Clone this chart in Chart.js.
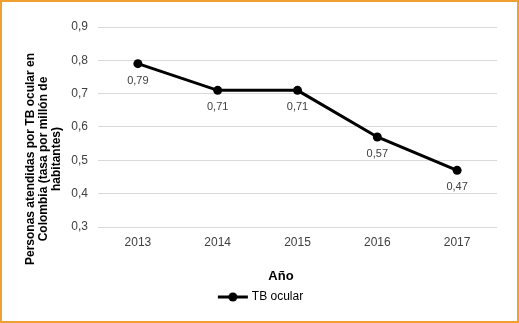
<!DOCTYPE html>
<html><head><meta charset="utf-8">
<script src="https://cdn.jsdelivr.net/npm/chart.js@4/dist/chart.umd.min.js"></script>
<style>
html,body{margin:0;padding:0;background:#fff;}
#wrap{position:relative;width:519px;height:323px;}
#frame{position:absolute;left:0;top:0;width:519px;height:323px;box-sizing:border-box;border:2px solid #f0a030;pointer-events:none;}
canvas{display:block;}
</style></head>
<body><div id="wrap"><canvas id="c" width="519" height="323"></canvas><div id="frame"></div></div>
<script>
const categories = ["2013","2014","2015","2016","2017"];
const seriesName = "TB ocular";
const values = [0.79, 0.71, 0.71, 0.57, 0.47];
const yTitle = ["Personas atendidas por TB ocular en","Colombia (tasa por millón de","habitantes)"];
const xTitle = "Año";

function fmt(v){ return v.toFixed(2).replace('.',','); }

const marker = document.createElement('canvas');
marker.width = 32; marker.height = 10;
(function(){const g=marker.getContext('2d');g.strokeStyle='#000';g.lineWidth=3;g.beginPath();g.moveTo(1,5);g.lineTo(31,5);g.stroke();g.fillStyle='#000';g.beginPath();g.arc(16,5,4.5,0,Math.PI*2);g.fill();})();

const labelPlugin = {
  id:'vlabels',
  afterDatasetsDraw(chart){
    const ctx=chart.ctx; const meta=chart.getDatasetMeta(0);
    ctx.save(); ctx.font='11px "Liberation Sans", Arial, sans-serif'; ctx.fillStyle='#404040';
    ctx.textAlign='center'; ctx.textBaseline='middle';
    meta.data.forEach((p,i)=>{ ctx.fillText(fmt(values[i]), p.x, p.y+17); });
    // y axis title
    ctx.font='bold 12px "Liberation Sans", Arial, sans-serif'; ctx.fillStyle='#000';
    const cy=(chart.chartArea.top+chart.chartArea.bottom)/2+32;
    const xs=[31,44,57];
    yTitle.forEach((t,i)=>{ ctx.save(); ctx.translate(xs[i],cy); ctx.rotate(-Math.PI/2); ctx.fillText(t,0,0); ctx.restore(); });
    // x axis title
    ctx.font='bold 13px "Liberation Sans", Arial, sans-serif';
    ctx.fillText(xTitle, 281, 276);
    ctx.restore();
  }
};

Chart.defaults.font.family='"Liberation Sans", Arial, sans-serif';
Chart.defaults.color='#404040';
new Chart(document.getElementById('c'),{
  type:'line',
  data:{labels:categories,datasets:[{label:seriesName,data:values,borderColor:'#000',backgroundColor:'#000',borderWidth:3,pointRadius:4.5,pointBorderWidth:0,pointBackgroundColor:'#000',pointBorderColor:'#000',tension:0,pointStyle:'circle'}]},
  options:{
    responsive:false,animation:false,
    layout:{padding:{left:26,right:22,top:27,bottom:10}},
    plugins:{
      legend:{position:'bottom',labels:{usePointStyle:true,pointStyle:marker,pointStyleWidth:26,color:'#000',font:{size:12},padding:4}},
      tooltip:{enabled:false}
    },
    scales:{
      y:{min:0.3,max:0.9,afterFit:(s)=>{s.width=72;},ticks:{stepSize:0.1,font:{size:12},color:'#404040',padding:10,callback:(v)=>v.toFixed(1).replace('.',',')},
         grid:{color:'#d9d9d9',lineWidth:1,drawTicks:false},border:{display:false}},
      x:{offset:true,ticks:{font:{size:12},color:'#404040',padding:8},grid:{display:false,drawTicks:false},border:{display:false},
         title:{display:true,text:xTitle,font:{size:13,weight:'bold'},color:'rgba(0,0,0,0)',padding:{top:12,bottom:2}}}
    }
  },
  plugins:[labelPlugin]
});
</script></body></html>
